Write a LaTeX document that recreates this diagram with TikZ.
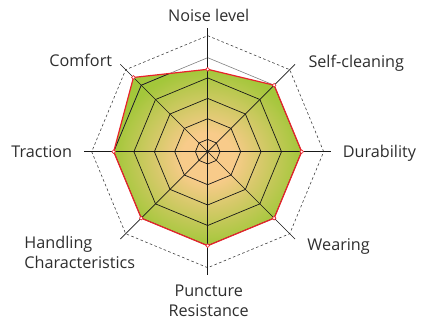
\documentclass[tikz,border=0pt]{standalone}
\usepackage{fontspec}
\setmainfont{Open Sans}
\definecolor{peach}{HTML}{F8CB8A}
\definecolor{leaf}{HTML}{A3C73A}
\definecolor{redline}{HTML}{E8222B}
\definecolor{txt}{HTML}{2E2E2E}
\pgfdeclareradialshading{spider}{\pgfpoint{0bp}{0bp}}{color(0bp)=(peach); color(7bp)=(peach); color(25bp)=(leaf); color(50bp)=(leaf)}

\begin{document}
\begin{tikzpicture}[x=1pt,y=1pt, inner sep=0pt, text=txt, font=\fontsize{16.2}{20.6}\selectfont]
\useasboundingbox (-207.7,-168.3) rectangle (218.3,151.7);
\coordinate (noise) at (90:82.4);
\coordinate (self) at (45:94);
\coordinate (dur) at (0:94);
\coordinate (wear) at (-45:94);
\coordinate (punct) at (-90:94);
\coordinate (handl) at (-135:94);
\coordinate (tract) at (180:94);
\coordinate (comf) at (135:105);
\path[shading=spider] (noise) -- (self) -- (dur) -- (wear) -- (punct) -- (handl) -- (tract) -- (comf) -- cycle;
\draw[black!50, line width=0.6pt] (0:94) \foreach \a in {45,90,...,315} {-- (\a:94)} -- cycle;
\begin{scope}
\clip (noise) -- (self) -- (dur) -- (wear) -- (punct) -- (handl) -- (tract) -- (comf) -- cycle;
\foreach \r in {12.3,33,53.3,73.8,94}
  \draw[black!90, line width=0.7pt] (0:\r) \foreach \a in {45,90,...,315} {-- (\a:\r)} -- cycle;
\end{scope}
\draw[black!75, line width=0.6pt, dash pattern=on 2.6pt off 2.4pt] (0:116) \foreach \a in {45,90,...,315} {-- (\a:116)} -- cycle;
\foreach \a in {0,45,...,315}
  \draw[black!90, line width=0.7pt] (0,0) -- (\a:123.5);
\draw[redline, line width=1.2pt, line join=round] (noise) -- (self) -- (dur) -- (wear) -- (punct) -- (handl) -- (tract) -- (comf) -- cycle;
\foreach \p in {noise,self,dur,wear,punct,handl,tract,comf}
  \node[circle, draw=redline, fill=white, line width=0.6pt, inner sep=1.3pt] at (\p) {};
% labels
\node[anchor=base] (noiselbl) at (1,130) {Noise level};
\node[anchor=base west] (selflbl) at (100.6,84) {Self-cleaning};
\node[anchor=base east] (comflbl) at (-95.4,85) {Comfort};
\node[anchor=base east] (tractlbl) at (-135.4,-5.6) {Traction};
\node[anchor=base west] (durlbl) at (135,-5.6) {Durability};
\node[anchor=base west] (wearlbl) at (99.6,-99) {Wearing};
\node[anchor=base west, align=left] (handllbl) at (-183.4,-117) {Handling\\Characteristics};
\node[anchor=base, align=center] (punctlbl) at (1,-165) {Puncture\\Resistance};
\end{tikzpicture}
\end{document}
